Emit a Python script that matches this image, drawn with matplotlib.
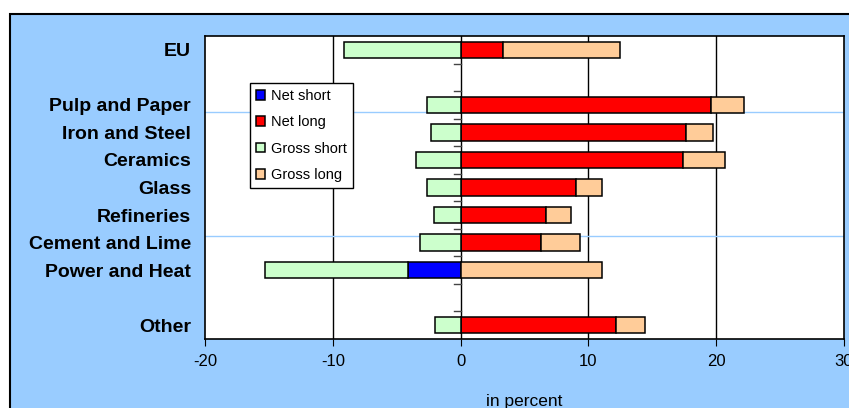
import numpy as np
import matplotlib.pyplot as plt
from matplotlib.patches import Rectangle

plt.rcParams['font.family'] = ['Liberation Sans', 'DejaVu Sans']
plt.rcParams['axes.unicode_minus'] = False

# sectors, top to bottom ('' = empty slot)
sectors = ['EU', '', 'Pulp and Paper', 'Iron and Steel', 'Ceramics', 'Glass',
           'Refineries', 'Cement and Lime', 'Power and Heat', '', 'Other']

# segment lengths in percent (0 where there is no bar)
net_short = [0, 0, 0, 0, 0, 0, 0, 0, -4.15, 0, 0]
gross_short = [-9.1, 0, -2.6, -2.3, -3.5, -2.6, -2.1, -3.2, -11.15, 0, -2.0]
net_long = [3.35, 0, 19.6, 17.6, 17.4, 9.0, 6.7, 6.3, 0, 0, 12.15]
gross_long = [9.1, 0, 2.6, 2.15, 3.3, 2.05, 1.95, 3.05, 11.05, 0, 2.3]

fig = plt.figure(figsize=(8.49, 4.08), dpi=100)
fig.patch.set_facecolor('white')
# blue panel behind the chart
fig.add_artist(Rectangle((10 / 849, -0.1), 1.0, 1 - 14 / 408 + 0.1,
                         transform=fig.transFigure, facecolor='#99CCFF',
                         edgecolor='black', linewidth=1.5, zorder=0))

ax = fig.add_axes([205 / 849, 1 - 339 / 408, 639 / 849, 303 / 408])
ax.set_facecolor('white')
ax.set_zorder(1)

y = np.arange(len(sectors))
h = 0.6


def seg(width, left, color, label):
    width = np.array(width, dtype=float)
    left = np.array(left, dtype=float)
    keep = width != 0
    ax.barh(y[keep], width[keep], h, left=left[keep], color=color,
            edgecolor='black', lw=1.1, label=label, zorder=3)


zeros = np.zeros(len(sectors))
seg(net_short, zeros, '#0000FF', 'Net short')
seg(net_long, zeros, '#FF0000', 'Net long')
seg(gross_short, net_short, '#CCFFCC', 'Gross short')
seg(gross_long, net_long, '#FFCC99', 'Gross long')

ax.set_xlim(-20, 30)
ax.set_ylim(len(sectors) - 0.5, -0.5)
ax.set_xticks([-20, -10, 0, 10, 20, 30])
ax.tick_params(axis='x', labelsize=12, length=5, direction='out', pad=6)
ax.set_yticks(y)
ax.set_yticklabels(sectors, fontsize=14, fontweight='bold')
ax.tick_params(axis='y', length=0, pad=10)

for v in [-10, 0, 10, 20]:
    ax.axvline(v, color='black', lw=1, zorder=1)
for v in [2.26, 6.77]:
    ax.axhline(v, color='#99CCFF', lw=1, zorder=1)
# category separator ticks on the zero line
for b in np.arange(0.5, len(sectors) - 0.5):
    ax.plot([-0.55, 0], [b, b], color='#444444', lw=1, zorder=2)

for s in ax.spines.values():
    s.set_linewidth(1.2)

ax.set_xlabel('in percent', fontsize=12.5, labelpad=18)

ax.legend(loc='upper left', bbox_to_anchor=(0.07, 0.845), borderaxespad=0,
          fontsize=10.5, frameon=True, fancybox=False, edgecolor='black',
          framealpha=1, handlelength=0.65, handleheight=0.65, handletextpad=0.4,
          labelspacing=0.85, borderpad=0.4)

fig.savefig('out.png', dpi=100)
